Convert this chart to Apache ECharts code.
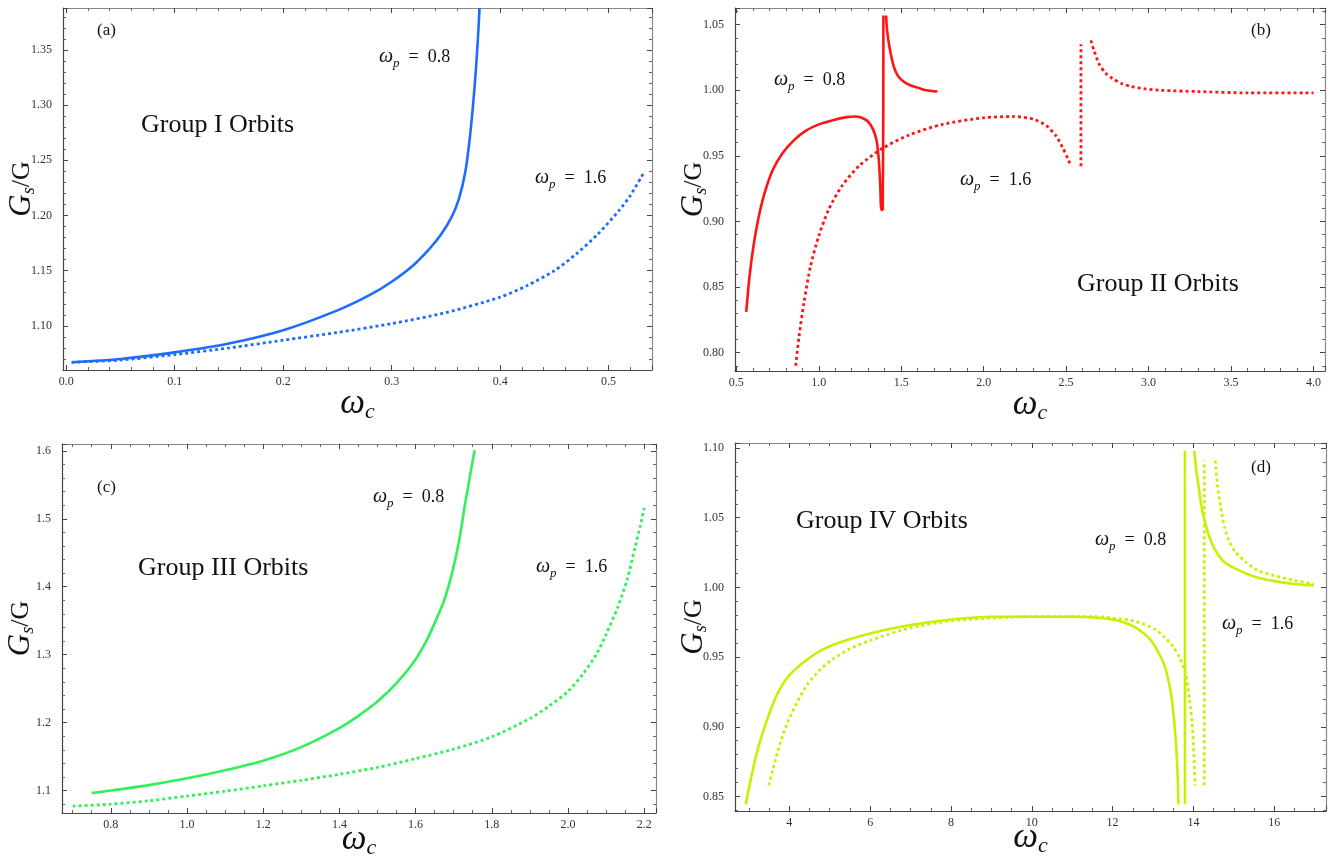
<!DOCTYPE html>
<html>
<head>
<meta charset="utf-8">
<script src="https://cdn.jsdelivr.net/npm/echarts@6/dist/echarts.min.js"></script>
<style>
html, body { margin: 0; background: #fff; }
#chart { width: 1336px; height: 857px; }
</style>
</head>
<body>
<div id="chart"></div>
<script>
// ---- data: [omega_c, Gs/G] ----
// (a) Group I
var aSolid = [[0.005,1.067],[0.05,1.070],[0.1,1.076],[0.15,1.084],[0.2,1.096],[0.25,1.114],[0.28,1.128],
    [0.3,1.140],[0.32,1.155],[0.335,1.170],[0.345,1.182],[0.355,1.198],[0.362,1.215],[0.368,1.240],
    [0.372,1.270],[0.375,1.300],[0.3775,1.330],[0.3795,1.360],[0.381,1.388]];
var aDotted = [[0.005,1.067],[0.05,1.069],[0.1,1.074],[0.15,1.080],[0.2,1.087],[0.25,1.094],[0.3,1.102],
    [0.35,1.112],[0.4,1.126],[0.425,1.1365],[0.45,1.150],[0.47,1.165],[0.49,1.183],[0.51,1.205],
    [0.52,1.218],[0.532,1.238]];

// (b) Group II
var bSolidLeft = [[0.56,0.831],[0.58,0.858],[0.605,0.882],[0.635,0.903],[0.67,0.921],[0.72,0.939],[0.78,0.952],
    [0.85,0.962],[0.92,0.969],[1.0,0.974],[1.08,0.977],[1.17,0.9795],[1.22,0.980],[1.26,0.979],[1.3,0.976],
    [1.33,0.970],[1.35,0.962],[1.362,0.950],[1.37,0.935],[1.375,0.92],[1.378,0.909],[1.388,0.909],[1.392,1.057]];
var bSolidRight = [[1.408,1.057],[1.415,1.045],[1.43,1.032],[1.455,1.018],[1.48,1.011],[1.51,1.007],
    [1.55,1.004],[1.6,1.002],[1.65,1.000],[1.72,0.999]];
var bDottedLeft = [[0.86,0.790],[0.88,0.812],[0.91,0.838],[0.95,0.866],[1.0,0.889],[1.06,0.909],[1.14,0.927],
    [1.25,0.943],[1.39,0.956],[1.55,0.966],[1.75,0.974],[2.0,0.979],[2.18,0.980],[2.3,0.978],[2.38,0.973],
    [2.44,0.965],[2.48,0.956],[2.51,0.948],[2.53,0.942]];
var bDottedJump = [[2.59,0.942],[2.59,1.035]];
var bDottedRight = [[2.65,1.038],[2.67,1.030],[2.70,1.020],[2.74,1.013],[2.78,1.009],[2.84,1.005],[2.89,1.003],
    [2.98,1.001],[3.07,1.000],[3.3,0.999],[3.6,0.998],[4.0,0.998]];

// (c) Group III
var cSolid = [[0.75,1.0965],[0.8,1.100],[0.9,1.108],[1.0,1.118],[1.1,1.130],[1.2,1.144],[1.3,1.164],[1.4,1.192],
    [1.45,1.21],[1.5,1.231],[1.55,1.258],[1.6,1.293],[1.63,1.322],[1.652,1.349],[1.675,1.38],[1.697,1.423],
    [1.715,1.47],[1.73,1.522],[1.745,1.57],[1.755,1.601]];
var cDotted = [[0.70,1.077],[0.8,1.080],[0.9,1.085],[1.0,1.092],[1.1,1.099],[1.2,1.107],[1.3,1.115],[1.4,1.124],
    [1.5,1.134],[1.6,1.147],[1.7,1.161],[1.8,1.179],[1.9,1.206],[1.95,1.224],[2.0,1.246],[2.04,1.272],
    [2.074,1.300],[2.1,1.330],[2.13,1.369],[2.155,1.41],[2.176,1.458],[2.19,1.49],[2.2,1.516]];

// (d) Group IV
var dSolidLeft = [[2.925,0.8444],[3.0,0.856],[3.12,0.872],[3.25,0.887],[3.39,0.900],[3.55,0.913],[3.71,0.924],
    [4.0,0.937],[4.57,0.951],[5.1,0.959],[6,0.967],[7,0.973],[8,0.977],[9,0.979],[10,0.979],[11,0.979],
    [12,0.977],[12.52,0.972],[12.95,0.962],[13.27,0.945],[13.43,0.926],[13.52,0.905],[13.59,0.878],[13.63,0.8444]];
var dSolidJump = [[13.79,0.8444],[13.79,1.098]];
var dSolidRight = [[14.02,1.098],[14.08,1.082],[14.13,1.072],[14.2,1.058],[14.3,1.045],[14.45,1.032],[14.6,1.024],
    [14.77,1.018],[15.0,1.014],[15.3,1.010],[15.6,1.007],[16,1.0045],[16.5,1.0025],[16.98,1.0014]];
var dDottedLeft = [[3.49,0.858],[3.6,0.870],[3.71,0.882],[3.85,0.895],[4.0,0.906],[4.2,0.918],[4.46,0.931],
    [4.8,0.942],[5.1,0.949],[5.5,0.956],[6,0.962],[7,0.971],[8,0.976],[9,0.978],[10,0.979],[11,0.979],
    [11.56,0.979],[12,0.978],[12.52,0.976],[13.05,0.970],[13.3,0.964],[13.48,0.958],[13.65,0.950],[13.81,0.938],
    [13.9,0.92],[13.97,0.902],[14.01,0.88],[14.04,0.858]];
var dDottedJump = [[14.27,0.858],[14.27,1.091]];
var dDottedRight = [[14.54,1.091],[14.6,1.072],[14.67,1.058],[14.77,1.043],[14.9,1.032],[15.05,1.025],[15.3,1.018],
    [15.6,1.012],[16,1.0085],[16.5,1.005],[16.98,1.0024]];

// ---- layout ----
var SERIF = 'Liberation Serif';
var panels = [
    { grid: { left: 63, top: 8, width: 589, height: 362 }, nameGap: 15,
      x: { min: -0.003, max: 0.54, step: 0.1, digits: 1, minor: 5 },
      y: { min: 1.06, max: 1.388, step: 0.05, digits: 2, minor: 5 },
      color: '#1f6cff', solid: [aSolid], dotted: [aDotted] },
    { grid: { left: 735, top: 8, width: 590, height: 363 }, nameGap: 15,
      x: { min: 0.492, max: 4.07, step: 0.5, digits: 1, minor: 5 },
      y: { min: 0.786, max: 1.0627, step: 0.05, digits: 2, minor: 5 },
      color: '#ff1414', solid: [bSolidLeft, bSolidRight], dotted: [bDottedLeft, bDottedJump, bDottedRight] },
    { grid: { left: 62, top: 444, width: 594, height: 369 }, nameGap: 8,
      x: { min: 0.672, max: 2.231, step: 0.2, digits: 1, minor: 4 },
      y: { min: 1.067, max: 1.61, step: 0.1, digits: 1, minor: 5 },
      color: '#32f05a', solid: [cSolid], dotted: [cDotted] },
    { grid: { left: 735, top: 443, width: 591, height: 368 }, nameGap: 8,
      x: { min: 2.656, max: 17.28, step: 2, digits: 0, minor: 4 },
      y: { min: 0.8396, max: 1.1036, step: 0.05, digits: 2, minor: 5 },
      color: '#c8f000', solid: [dSolidLeft, dSolidJump, dSolidRight], dotted: [dDottedLeft, dDottedJump, dDottedRight] }
];

function fTickLabel(ax) {
    return function (v) {
        var k = v / ax.step;
        if (Math.abs(k - Math.round(k)) > 1e-6) return '';
        return v.toFixed(ax.digits);
    };
}

function fAxis(ax, gi, pos, main) {
    return {
        type: 'value', gridIndex: gi, position: pos,
        min: ax.min, max: ax.max,
        splitNumber: Math.round((ax.max - ax.min) / ax.step),
        splitLine: { show: false },
        axisLine: { show: true, onZero: false, lineStyle: { color: main ? '#444' : '#888', width: 1.2 } },
        axisTick: { show: true, inside: true, length: 5, lineStyle: { color: '#444' } },
        minorTick: { show: true, splitNumber: ax.minor, length: 3, lineStyle: { color: '#666' } },
        axisLabel: { show: main, formatter: fTickLabel(ax), fontFamily: SERIF, fontSize: 12, color: '#333',
                     margin: 6, showMinLabel: true, showMaxLabel: true }
    };
}

var grids = [], xAxes = [], yAxes = [], series = [];
panels.forEach(function (p, gi) {
    grids.push(Object.assign({ show: false, containLabel: false, outerBoundsMode: 'none' }, p.grid));
    var xb = fAxis(p.x, gi, 'bottom', true);
    xb.name = '{w|ω}{c|c}';
    xb.nameLocation = 'middle';
    xb.nameGap = p.nameGap;
    xb.nameMoveOverlap = false;
    xb.nameTextStyle = { rich: {
        w: { fontFamily: SERIF, fontStyle: 'italic', fontSize: 35, lineHeight: 38, color: '#111' },
        c: { fontFamily: SERIF, fontStyle: 'italic', fontSize: 22, lineHeight: 18, verticalAlign: 'bottom', color: '#111' }
    } };
    xAxes.push(xb, fAxis(p.x, gi, 'top', false));
    var yl = fAxis(p.y, gi, 'left', true);
    yl.axisLabel.margin = 11;
    yl.name = '{g|G}{s|s}{r|/G}';
    yl.nameLocation = 'middle';
    yl.nameRotate = 90;
    yl.nameGap = 25;
    yl.nameMoveOverlap = false;
    yl.nameTextStyle = { rich: {
        g: { fontFamily: SERIF, fontStyle: 'italic', fontSize: 31, lineHeight: 32, color: '#111' },
        s: { fontFamily: SERIF, fontStyle: 'italic', fontSize: 18, lineHeight: 15, verticalAlign: 'bottom', color: '#111' },
        r: { fontFamily: SERIF, fontSize: 26, lineHeight: 32, color: '#111' }
    } };
    yAxes.push(yl, fAxis(p.y, gi, 'right', false));

    p.solid.forEach(function (seg) {
        series.push({ type: 'line', xAxisIndex: gi * 2, yAxisIndex: gi * 2, data: seg, showSymbol: false,
            smooth: seg.length > 2 ? 0.25 : false,
            silent: true, clip: true, lineStyle: { color: p.color, width: 2.6 } });
    });
    p.dotted.forEach(function (seg) {
        series.push({ type: 'line', xAxisIndex: gi * 2, yAxisIndex: gi * 2, data: seg, showSymbol: false,
            smooth: seg.length > 2 ? 0.25 : false,
            silent: true, clip: true, lineStyle: { color: p.color, width: 2.8, type: [3, 3] } });
    });
});

// ---- annotations ----
var richNote = {
    w: { fontFamily: SERIF, fontStyle: 'italic', fontSize: 20, lineHeight: 26, fill: '#111' },
    p: { fontFamily: SERIF, fontStyle: 'italic', fontSize: 13, lineHeight: 12, verticalAlign: 'bottom', fill: '#111' },
    t: { fontFamily: SERIF, fontSize: 18, lineHeight: 26, fill: '#111' }
};
function fOmegaNote(val, left, cy) {
    return { type: 'text', left: left, top: cy - 13, silent: true,
        style: { text: '{w|ω}{p|p}{t|  =  ' + val + '}', rich: richNote } };
}
function fNote(txt, size, left, cy) {
    return { type: 'text', left: left, top: cy - size / 2, silent: true,
        style: { text: txt, fontFamily: SERIF, fontSize: size, fill: '#111' } };
}
var graphics = [
    fNote('(a)', 17, 97, 31), fOmegaNote('0.8', 379, 60), fNote('Group I Orbits', 26, 141, 125), fOmegaNote('1.6', 535, 181),
    fNote('(b)', 17, 1251, 31), fOmegaNote('0.8', 774, 83), fNote('Group II Orbits', 26, 1077, 284), fOmegaNote('1.6', 960, 183),
    fNote('(c)', 17, 97, 488), fOmegaNote('0.8', 373, 500), fNote('Group III Orbits', 26, 138, 568), fOmegaNote('1.6', 536, 570),
    fNote('(d)', 17, 1251, 468), fNote('Group IV Orbits', 26, 796, 521), fOmegaNote('0.8', 1095, 543), fOmegaNote('1.6', 1222, 627)
];

var chart = echarts.init(document.getElementById('chart'), null, { renderer: 'canvas' });
chart.setOption({
    animation: false,
    backgroundColor: '#fff',
    grid: grids,
    xAxis: xAxes,
    yAxis: yAxes,
    series: series,
    graphic: graphics
});
</script>
</body>
</html>
